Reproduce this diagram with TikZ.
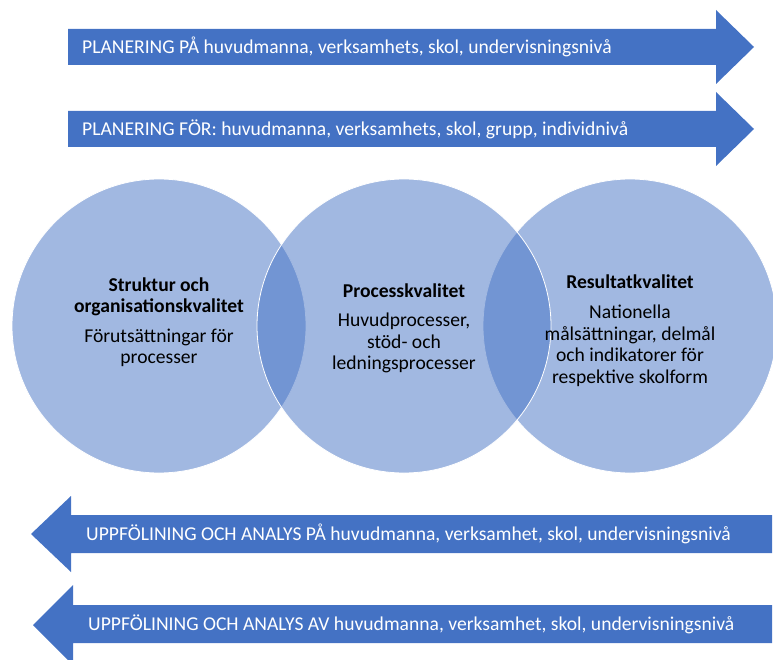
\documentclass[tikz,border=0pt]{standalone}
\usepackage{fontspec}
\setmainfont{Carlito}
\definecolor{accent}{HTML}{4472C4}
\begin{document}
\begin{tikzpicture}[x=1pt,y=-1pt,
  arrowshape/.style={fill=accent},
  arrowtext/.style={anchor=west,text=white,inner sep=0pt,font=\fontsize{19.6}{22}\selectfont},
  venn/.style={circle,minimum size=294pt,inner sep=0pt,fill=accent,fill opacity=0.5,draw=white,draw opacity=1,line width=0.8pt},
  title/.style={align=center,inner sep=0pt,font=\fontsize{19.6}{20.5}\selectfont\bfseries},
  body/.style={align=center,inner sep=0pt,font=\fontsize{19.6}{21.5}\selectfont}]
\useasboundingbox (0,0) rectangle (773,660);
% arrows
\fill[arrowshape] (68,29) -- (716,29) -- (716,10) -- (754,47) -- (716,84) -- (716,65) -- (68,65) -- cycle;
\fill[arrowshape] (68,111) -- (716,111) -- (716,92) -- (754,129) -- (716,166) -- (716,147) -- (68,147) -- cycle;
\fill[arrowshape] (772,515) -- (71,515) -- (71,496) -- (31,534) -- (71,572) -- (71,553) -- (772,553) -- cycle;
\fill[arrowshape] (772,605) -- (73,605) -- (73,585) -- (33,625) -- (73,665) -- (73,643) -- (772,643) -- cycle;
\node[arrowtext] (a1) at (82,47) {PLANERING PÅ huvudmanna, verksamhets, skol, undervisningsnivå};
\node[arrowtext] (a2) at (82,129) {PLANERING FÖR: huvudmanna, verksamhets, skol, grupp, individnivå};
\node[arrowtext] (a3) at (86,534) {UPPFÖLINING OCH ANALYS PÅ huvudmanna, verksamhet, skol, undervisningsnivå};
\node[arrowtext] (a4) at (88,624) {UPPFÖLINING OCH ANALYS AV huvudmanna, verksamhet, skol, undervisningsnivå};
% circles
\node[venn] (c1) at (159,326) {};
\node[venn] (c3) at (630,326) {};
\node[venn] (c2) at (404,326) {};
% texts
\node[title] (t1) at (159,297) {Struktur och\\organisationskvalitet};
\node[body] (b1) at (159,348) {Förutsättningar för\\processer};
\node[title] (t2) at (404,291) {Processkvalitet};
\node[body] (b2) at (404,343) {Huvudprocesser,\\stöd- och\\ledningsprocesser};
\node[title] (t3) at (630,282) {Resultatkvalitet};
\node[body] (b3) at (630,346) {Nationella\\målsättningar, delmål\\och indikatorer för\\respektive skolform};
\end{tikzpicture}
\end{document}
